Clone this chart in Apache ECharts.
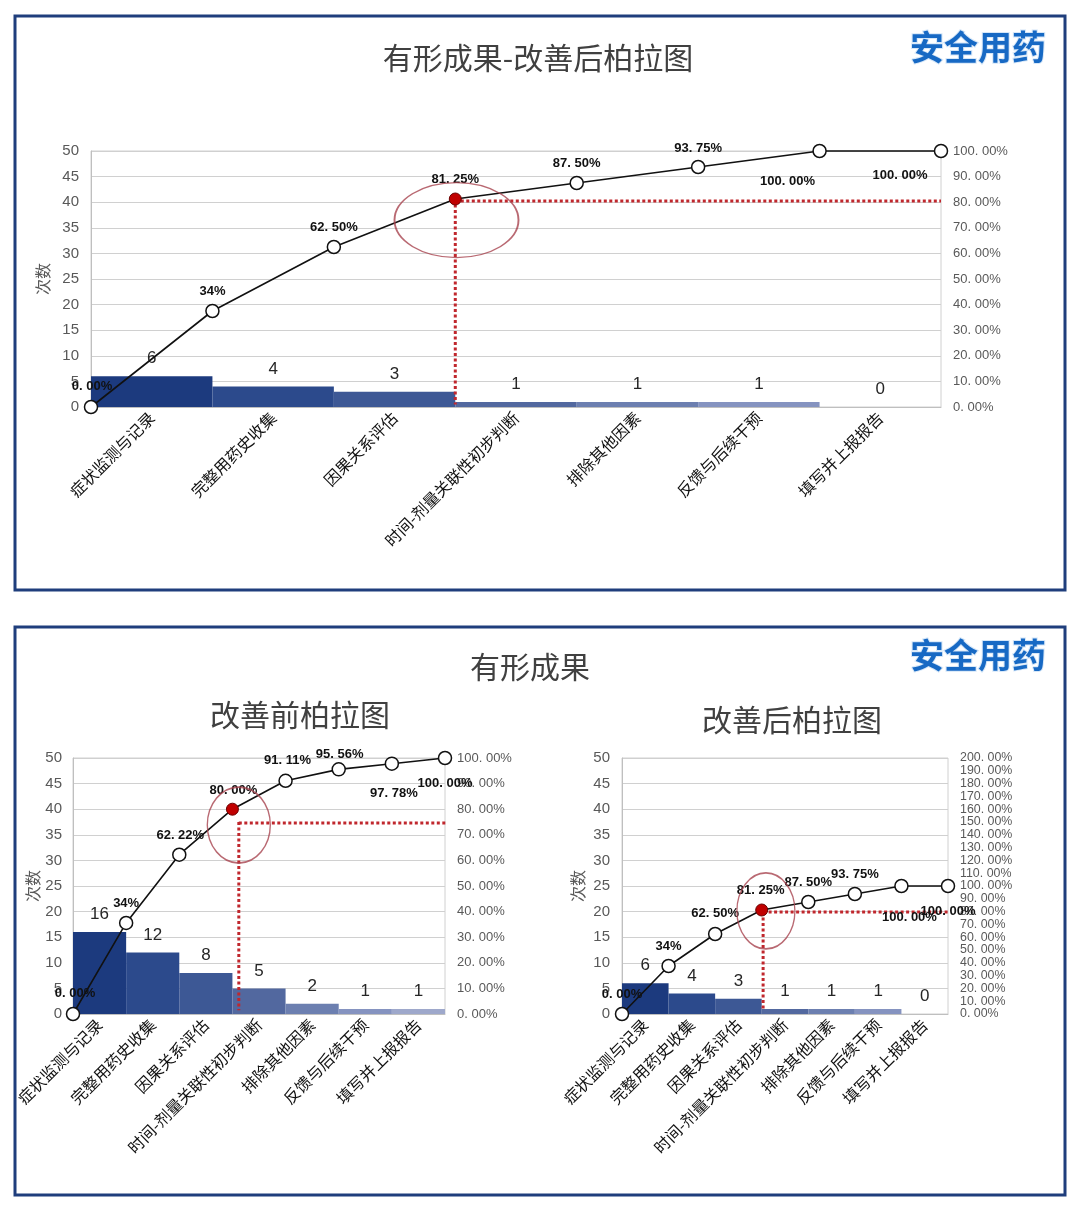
<!DOCTYPE html>
<html><head><meta charset="utf-8">
<script src="https://cdn.jsdelivr.net/npm/echarts@6/dist/echarts.min.js"></script>
<style>html,body{margin:0;padding:0;background:#fff}#c{width:1080px;height:1215px}</style>
</head><body><div id="c"></div>
<script>
// ---------------- data ----------------
const categories = ['症状监测与记录','完整用药史收集','因果关系评估','时间-剂量关联性初步判断','排除其他因素','反馈与后续干预','填写并上报报告'];
const afterCounts = [6,4,3,1,1,1,0];
const afterCumPct = [0,37.5,62.5,81.25,87.5,93.75,100,100];
const afterPctLabels = ['0. 00%','34%','62. 50%','81. 25%','87. 50%','93. 75%','100. 00%','100. 00%'];
const beforeCounts = [16,12,8,5,2,1,1];
const beforeCumPct = [0,35.56,62.22,80,91.11,95.56,97.78,100];
const beforePctLabels = ['0. 00%','34%','62. 22%','80. 00%','91. 11%','95. 56%','97. 78%','100. 00%'];
const countAxis = {min:0, max:50, interval:5};
const pctAxisA = {min:0, max:100, interval:10};
const pctAxisB = {min:0, max:200, interval:10};
const keyPointIndex = 3;
// annotation guides (in axis units: x = boundary index, y = percent)
const guideTopV = [[3,81.25],[3,1]];
const guideTopH = [[3,80.5],[7,80.5]];
const ellipseTop = [3.01,73];
const guideBLV = [[3.12,75],[3.12,1.5]];
const guideBLH = [[3.12,74.6],[7.66,74.6]];
const ellipseBL = [3.12,73.8];
const guideBRV = [[3.03,79.7],[3.03,3]];
const guideBRH = [[3.03,79.7],[7.58,79.7]];
const ellipseBR = [3.09,80.5];

// ---------------- style ----------------
const barPalette = ['#1c3a7e','#2c4a8c','#3d5895','#52689f','#6c7fb0','#8593c0','#9ea8cb'];
const dotRed = '#c0272d';
const grids = [
  {left:91, top:151, width:850, height:256},
  {left:73, top:758, width:372, height:256},
  {left:622, top:758, width:326, height:256}
];
const offsTop = [[1,-21],[0,-20],[0,-20],[0,-20],[0,-20],[0,-19],[-32,30],[-41,24]];
const offsBL = [[2,-21],[0,-20],[1,-19],[1,-19],[2,-20],[1,-15],[2,30],[0,25]];
const offsBR = [[0,-20],[0,-20],[0,-21],[-1,-20],[0,-20],[0,-20],[8,31],[0,25]];

const xAxes = [], yAxes = [], series = [];
function pctFmt(v){ return v.toFixed(2).replace('.', '. ') + '%'; }

function addChart(i, counts, cum, labels, pctAxis, offs, gV, gH, ell, ellSize, nameGap, yLabelMargin, pctFont){
  xAxes.push({gridIndex:i, type:'category', data:categories, boundaryGap:true,
    axisLine:{show:true, lineStyle:{color:'#bfbfbf'}}, axisTick:{show:false},
    axisLabel:{interval:0, rotate:45, fontSize:16, color:'#111', margin:8, fontFamily:'Noto Sans CJK SC', hideOverlap:false}});
  xAxes.push({gridIndex:i, type:'value', min:0, max:7, show:false});
  yAxes.push({gridIndex:i, type:'value', min:countAxis.min, max:countAxis.max, interval:countAxis.interval,
    name:'次数', nameLocation:'middle', nameGap:nameGap, nameRotate:90,
    nameTextStyle:{fontSize:16, color:'#595959', fontFamily:'Noto Sans CJK SC'},
    axisLine:{show:true, lineStyle:{color:'#bfbfbf'}}, axisTick:{show:false},
    axisLabel:{fontSize:15, color:'#595959', margin:yLabelMargin, fontFamily:'Liberation Sans', showMinLabel:true, showMaxLabel:true, hideOverlap:false},
    splitLine:{show:true, lineStyle:{color:'#d0d0d0', width:1}}});
  yAxes.push({gridIndex:i, type:'value', min:pctAxis.min, max:pctAxis.max, interval:pctAxis.interval,
    position:'right', axisLine:{show:false}, axisTick:{show:false}, splitLine:{show:false},
    axisLabel:{fontSize:pctFont, lineHeight:pctFont, color:'#595959', margin:12, fontFamily:'Liberation Sans', formatter:pctFmt,
      showMinLabel:true, showMaxLabel:true, hideOverlap:false}});
  const xc = 2*i, xv = 2*i+1, yl = 2*i, yr = 2*i+1;
  series.push({type:'bar', xAxisIndex:xc, yAxisIndex:yl, barCategoryGap:'0%', z:2,
    data:counts.map((v,k)=>({value:v, itemStyle:{color:barPalette[k]}})),
    label:{show:true, position:'top', distance:9, fontSize:17, color:'#262626', fontFamily:'Liberation Sans'}});
  [gV,gH].forEach(g=>series.push({type:'line', xAxisIndex:xv, yAxisIndex:yr, data:g, clip:false, z:3,
    symbol:'none', silent:true, lineStyle:{color:dotRed, width:3, type:[3,2.5], cap:'butt'}}));
  series.push({type:'line', xAxisIndex:xv, yAxisIndex:yr, clip:false, z:4,
    symbol:'circle', symbolSize:13, lineStyle:{color:'#111', width:1.6},
    itemStyle:{color:'#fff', borderColor:'#111', borderWidth:1.5},
    data:cum.map((v,k)=>{
      const d = {value:[k,v], label:{offset:offs[k]}};
      if(k===keyPointIndex){ d.itemStyle={color:'#c00000', borderColor:'#6b0000', borderWidth:1}; d.symbolSize=12; }
      return d;
    }),
    label:{show:true, position:'inside', formatter:p=>labels[p.dataIndex],
      fontSize:13, fontWeight:'bold', color:'#111', fontFamily:'Liberation Sans'}});
  series.push({type:'scatter', xAxisIndex:xv, yAxisIndex:yr, clip:false, z:5, silent:true,
    symbol:'circle', symbolSize:ellSize, data:[ell],
    itemStyle:{color:'rgba(0,0,0,0)', borderColor:'#a8434f', borderWidth:1.5}});
}

addChart(0, afterCounts, afterCumPct, afterPctLabels, pctAxisA, offsTop, guideTopV, guideTopH, ellipseTop, [124,75], 40, 12, 13);
addChart(1, beforeCounts, beforeCumPct, beforePctLabels, pctAxisA, offsBL, guideBLV, guideBLH, ellipseBL, [63,76], 30, 11, 13);
addChart(2, afterCounts, afterCumPct, afterPctLabels, pctAxisB, offsBR, guideBRV, guideBRH, ellipseBR, [58,76], 36, 12, 12.4);

function txt(x,y,t,size,color){
  return {type:'text', x:x, y:y, z:10, style:{text:t, fontSize:size, fill:color||'#404040',
    fontFamily:'Noto Sans CJK SC', align:'center', verticalAlign:'middle'}};
}
function logo(x,y){
  return {type:'text', x:x, y:y, z:10, style:{text:'安全用药', fontSize:34, fontWeight:'bold',
    fill:'#1769c4', stroke:'#d6e7f8', lineWidth:2, fontFamily:'Noto Sans CJK SC',
    align:'center', verticalAlign:'middle', shadowColor:'rgba(0,40,100,0.35)', shadowBlur:3, shadowOffsetX:1, shadowOffsetY:1}};
}

const chart = echarts.init(document.getElementById('c'), null, {renderer:'canvas'});
chart.setOption({
  backgroundColor:'#fff',
  animation:false,
  grid: grids.map(g=>Object.assign({show:true, borderColor:'#d0d0d0', borderWidth:1, backgroundColor:'transparent'}, g)),
  xAxis:xAxes, yAxis:yAxes, series:series,
  graphic:[
    {type:'rect', shape:{x:15, y:16, width:1050, height:574}, style:{fill:'none', stroke:'#1f3e7c', lineWidth:3}, z:9},
    {type:'rect', shape:{x:15, y:627, width:1050, height:568}, style:{fill:'none', stroke:'#1f3e7c', lineWidth:3}, z:9},
    txt(538,58,'有形成果-改善后柏拉图',30),
    txt(530,667,'有形成果',30),
    txt(300,715,'改善前柏拉图',30),
    txt(792,720,'改善后柏拉图',30),
    logo(978,47),
    logo(978,655)
  ]
});
</script></body></html>
